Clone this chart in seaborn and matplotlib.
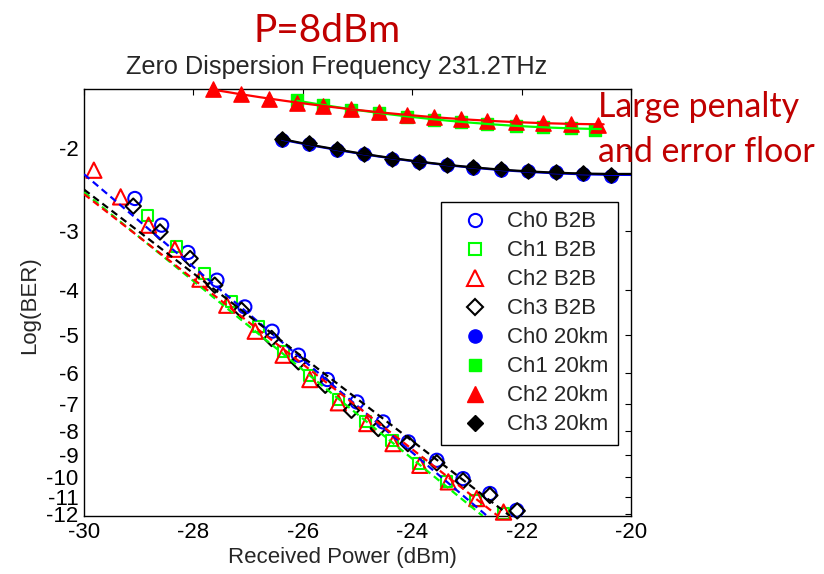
import numpy as np
import pandas as pd
import matplotlib
matplotlib.use("Agg")
import matplotlib.pyplot as plt
import seaborn as sns
from matplotlib.lines import Line2D

# ---------------- data ----------------
# Back-to-back (B2B) measurements: received power (dBm) and log10(BER)
ch0_b2b_x = [-29.07, -28.58, -28.10, -27.57, -27.06, -26.56, -26.08, -25.55,
             -25.01, -24.53, -24.07, -23.55, -23.07, -22.58, -22.09]
ch0_b2b_y = [-2.562, -2.919, -3.336, -3.820, -4.353, -4.902, -5.512, -6.209,
             -6.929, -7.639, -8.425, -9.215, -10.08, -10.84, -11.77]
ch1_b2b_x = [-28.84, -28.31, -27.79, -27.30, -26.81, -26.36, -25.87, -25.35,
             -24.86, -24.37, -23.89, -23.37, -22.85, -22.33]
ch1_b2b_y = [-2.790, -3.243, -3.697, -4.248, -4.800, -5.424, -6.081, -6.839,
             -7.639, -8.356, -9.365, -10.24, -11.21, -11.94]
ch2_b2b_x = [-29.82, -29.33, -28.82, -28.34, -27.88, -27.39, -26.87, -26.36,
             -25.87, -25.35, -24.83, -24.35, -23.86, -23.34, -22.82, -22.33]
ch2_b2b_y = [-2.231, -2.542, -2.919, -3.283, -3.801, -4.317, -4.902, -5.512,
             -6.209, -6.956, -7.699, -8.492, -9.443, -10.24, -11.11, -11.87]
ch3_b2b_x = [-29.10, -28.61, -28.06, -27.61, -27.12, -26.57, -26.08, -25.59,
             -25.11, -24.62, -24.08, -23.55, -23.07, -22.58, -22.08]
ch3_b2b_y = [-2.660, -3.017, -3.436, -3.914, -4.424, -5.080, -5.695, -6.386,
             -7.216, -7.889, -8.492, -9.328, -10.19, -10.94, -11.80]

# B2B dashed fit lines (start / end points), Ch0..Ch3
b2b_fit_x = [[-30.0, -22.63], [-30.0, -22.71], [-30.0, -22.43], [-30.0, -22.21]]
b2b_fit_y = [[-2.275, -12.1], [-2.484, -12.1], [-2.508, -12.1], [-2.452, -12.1]]

# 20 km transmission
ch0_20_x = [-26.38, -25.89, -25.37, -24.88, -24.37, -23.88, -23.37, -22.89,
            -22.38, -21.88, -21.38, -20.88, -20.37]
ch0_20_y = [-1.925, -1.962, -2.020, -2.066, -2.112, -2.145, -2.180, -2.205,
            -2.228, -2.244, -2.256, -2.268, -2.295]
ch1_20_x = [-26.10, -25.63, -25.12, -24.60, -24.10, -23.60, -23.10, -22.63,
            -22.10, -21.60, -21.10, -20.65]
ch1_20_y = [-1.584, -1.623, -1.659, -1.688, -1.717, -1.742, -1.759, -1.777,
            -1.794, -1.807, -1.816, -1.829]
ch2_20_x = [-27.64, -27.13, -26.62, -26.10, -25.63, -25.12, -24.60, -24.10,
            -23.60, -23.10, -22.63, -22.10, -21.60, -21.10, -20.60]
ch2_20_y = [-1.500, -1.538, -1.576, -1.607, -1.631, -1.655, -1.680, -1.704,
            -1.721, -1.738, -1.751, -1.759, -1.768, -1.777, -1.790]
ch3_20_x = [-26.38, -25.89, -25.37, -24.88, -24.37, -23.88, -23.37, -22.89,
            -22.38, -21.88, -21.38, -20.88, -20.37]
ch3_20_y = [-1.919, -1.958, -2.016, -2.062, -2.110, -2.141, -2.177, -2.201,
            -2.223, -2.238, -2.249, -2.260, -2.286]
# right end of the solid 20 km fitted curves (None = just past last point)
km20_fit_end = [-20.0, None, None, -20.0]

series_labels = ["Ch0 B2B", "Ch1 B2B", "Ch2 B2B", "Ch3 B2B",
                 "Ch0 20km", "Ch1 20km", "Ch2 20km", "Ch3 20km"]
x_ticks = [-30, -28, -26, -24, -22, -20]
y_ticks = [-2, -3, -4, -5, -6, -7, -8, -9, -10, -11, -12]
y_tick_labels = ["-2", "-3", "-4", "-5", "-6", "-7", "-8", "-9", "-10", "-11", "-12"]

# ---------------- styling ----------------
sns.set_style("white")
plt.rcParams["font.family"] = ["Liberation Sans", "DejaVu Sans"]
plt.rcParams["font.size"] = 16

colors = ["#0000ff", "#00ff00", "#ff0000", "#000000"]
markers = ["o", "s", "^", "D"]
msizes = [9.5, 8.0, 11.0, 7.8]


def fwd(v):
    v = np.asarray(v, dtype=float)
    return -np.log10(np.clip(-v, 1e-9, None))


def inv(u):
    u = np.asarray(u, dtype=float)
    return -np.power(10.0, -u)


fig = plt.figure(figsize=(8.24, 5.74), dpi=100)
ax = fig.add_axes([84 / 824, 1 - 516 / 574, (631 - 84) / 824, (516 - 89) / 574])
ax.set_yscale("function", functions=(fwd, inv))

b2b = [(ch0_b2b_x, ch0_b2b_y), (ch1_b2b_x, ch1_b2b_y),
       (ch2_b2b_x, ch2_b2b_y), (ch3_b2b_x, ch3_b2b_y)]
km20 = [(ch0_20_x, ch0_20_y), (ch1_20_x, ch1_20_y),
        (ch2_20_x, ch2_20_y), (ch3_20_x, ch3_20_y)]

# B2B: open markers
for i, (xs, ys) in enumerate(b2b):
    sns.scatterplot(x=xs, y=ys, ax=ax, marker=markers[i], s=msizes[i] ** 2,
                    facecolor="none", edgecolor=colors[i], linewidth=1.5,
                    clip_on=False, zorder=3)
# B2B dashed fit lines (straight in the plotted scale)
for i in range(4):
    sns.lineplot(x=b2b_fit_x[i], y=b2b_fit_y[i], ax=ax, color=colors[i],
                 linewidth=1.6, sort=False, estimator=None, zorder=4)
    ax.lines[-1].set_dashes((3.2, 2.0))

# 20 km: filled markers + solid fitted curves
for i, (xs, ys) in enumerate(km20):
    sns.scatterplot(x=xs, y=ys, ax=ax, marker=markers[i], s=msizes[i] ** 2,
                    color=colors[i], edgecolor=colors[i], linewidth=1.0,
                    clip_on=False, zorder=3)
for i, (xs, ys) in enumerate(km20):
    p = np.polyfit(xs, fwd(ys), 2)
    end = km20_fit_end[i] if km20_fit_end[i] is not None else xs[-1] + 0.1
    fx = np.linspace(xs[0], end, 200)
    fy = inv(np.polyval(p, fx))
    sns.lineplot(x=fx, y=fy, ax=ax, color=colors[i], linewidth=1.6,
                 sort=False, estimator=None, zorder=4)

ax.set_xlim(-30, -20)
ax.set_ylim(-12.1, -1.5)
ax.set_xticks(x_ticks)
ax.set_xticklabels([str(t) for t in x_ticks])
ax.set_yticks(y_ticks)
ax.set_yticklabels(y_tick_labels)
ax.minorticks_off()
ax.tick_params(direction="in", length=4.5, width=0.8, top=True, right=True,
               labelsize=16, pad=4, colors="black")
for sp in ax.spines.values():
    sp.set_visible(True)
    sp.set_color("black")
    sp.set_linewidth(1.0)

ax.set_xlabel("Received Power (dBm)", fontsize=16)
ax.xaxis.set_label_coords(0.4717, -0.072)
ax.xaxis.label.set_va("top")
ax.set_ylabel("Log(BER)", fontsize=16)
ax.yaxis.set_label_coords(-0.08, 0.494)

# legend
handles = []
for i in range(4):
    handles.append(Line2D([], [], linestyle="none", marker=markers[i],
                          markersize=msizes[i], markerfacecolor="none",
                          markeredgecolor=colors[i], markeredgewidth=1.5))
for i in range(4):
    handles.append(Line2D([], [], linestyle="none", marker=markers[i],
                          markersize=msizes[i], markerfacecolor=colors[i],
                          markeredgecolor=colors[i], markeredgewidth=1.0))
leg = ax.legend(handles, series_labels, loc="upper left",
                bbox_to_anchor=(0.6527, 0.7354), fontsize=16, frameon=True,
                fancybox=False, edgecolor="black", framealpha=1,
                borderpad=0.42, labelspacing=0.36, handletextpad=0.35,
                handlelength=2.2, borderaxespad=0)
leg.get_frame().set_linewidth(1.0)

# titles / annotations
red_note = "#c00000"
fig.text(326.7 / 824, 1 - 42 / 574, "P=8dBm", color=red_note, fontsize=28,
         family=["Lato", "DejaVu Sans"], ha="center", va="baseline")
fig.text(336.5 / 824, 1 - 74 / 574, "Zero Dispersion Frequency 231.2THz",
         fontsize=18.2, ha="center", va="baseline")
fig.text(598 / 824, 1 - 117.3 / 574, "Large penalty", color=red_note,
         fontsize=24.4, family=["Lato", "DejaVu Sans"], ha="left", va="baseline")
fig.text(598 / 824, 1 - 161.7 / 574, "and error floor", color=red_note,
         fontsize=24.4, family=["Lato", "DejaVu Sans"], ha="left", va="baseline")

fig.savefig("out.png", dpi=100)
